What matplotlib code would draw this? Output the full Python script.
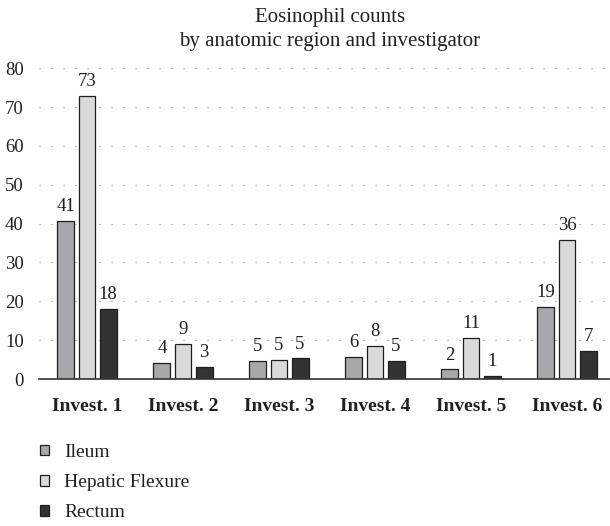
import matplotlib
matplotlib.use("Agg")
import matplotlib.pyplot as plt
import numpy as np

categories = ["Invest. 1", "Invest. 2", "Invest. 3", "Invest. 4", "Invest. 5", "Invest. 6"]
series_names = ["Ileum", "Hepatic Flexure", "Rectum"]
ileum = [40.7, 4.2, 4.6, 5.7, 2.5, 18.6]
hepatic = [72.9, 9.1, 5.0, 8.5, 10.6, 35.9]
rectum = [18.1, 3.2, 5.3, 4.7, 0.85, 7.3]
ileum_labels = ["41", "4", "5", "6", "2", "19"]
hepatic_labels = ["73", "9", "5", "8", "11", "36"]
rectum_labels = ["18", "3", "5", "5", "1", "7"]
yticks = [0, 10, 20, 30, 40, 50, 60, 70, 80]

colors = ["#a7a8ab", "#d9d9da", "#333333"]
txt = "#231f20"
plt.rcParams['font.family'] = ['Liberation Serif', 'DejaVu Serif']

W, H = 610, 526
fig = plt.figure(figsize=(W / 100, H / 100), dpi=100)
left, right_px = 39, 610
bottom_px, top_px = 379, 68.3
ax = fig.add_axes([left / W, (H - bottom_px) / H, (right_px - left) / W, (bottom_px - top_px) / H])

x = np.arange(len(categories))
bw = 0.177
step = 0.219
data = [ileum, hepatic, rectum]
labels = [ileum_labels, hepatic_labels, rectum_labels]
handles = []
for i, (vals, labs) in enumerate(zip(data, labels)):
    pos = x + (i - 1) * step
    b = ax.bar(pos, vals, width=bw, color=colors[i], edgecolor="#1e1e1e", linewidth=0.9,
               label=series_names[i], zorder=3)
    handles.append(b)
    for px, v, l in zip(pos, vals, labs):
        ax.annotate(l, (px, v), xytext=(0, 7), textcoords="offset points",
                    ha="center", va="baseline", fontsize=13.5, color=txt, zorder=4)

ax.set_xlim(-0.5, -0.5 + (right_px - left) / 96.0)
ax.set_ylim(0, 80)
ax.set_yticks(yticks)
ax.set_yticklabels([str(t) for t in yticks], fontsize=13.5, color=txt)
ax.set_xticks(x)
ax.set_xticklabels(categories, fontsize=14, fontweight="bold", color=txt)
ax.tick_params(axis="y", length=0, pad=11)
ax.tick_params(axis="x", length=0, pad=14)
ax.yaxis.grid(True, linestyle=(0, (1, 9.8)), linewidth=0.8, color="#8a8a8a", zorder=0)
ax.xaxis.grid(False)
for s in ["top", "right", "left"]:
    ax.spines[s].set_visible(False)
ax.spines["bottom"].set_color("#333333")
ax.spines["bottom"].set_linewidth(1.2)
ax.spines["bottom"].set_zorder(5)
ax.set_axisbelow(True)

fig.text(330 / W, 1 - 22 / H, "Eosinophil counts", ha="center", va="baseline", fontsize=15, color=txt)
fig.text(330 / W, 1 - 46 / H, "by anatomic region and investigator", ha="center", va="baseline", fontsize=15, color=txt)

leg = fig.legend(handles=handles, labels=series_names, loc="upper left",
                 bbox_to_anchor=(40 / W, 1 - 444 / H), frameon=False, fontsize=14,
                 handlelength=0.45, handleheight=0.45, handletextpad=0.8,
                 labelspacing=0.68, borderpad=0, borderaxespad=0)
for t in leg.get_texts():
    t.set_color(txt)

fig.savefig("out.png", dpi=100)
